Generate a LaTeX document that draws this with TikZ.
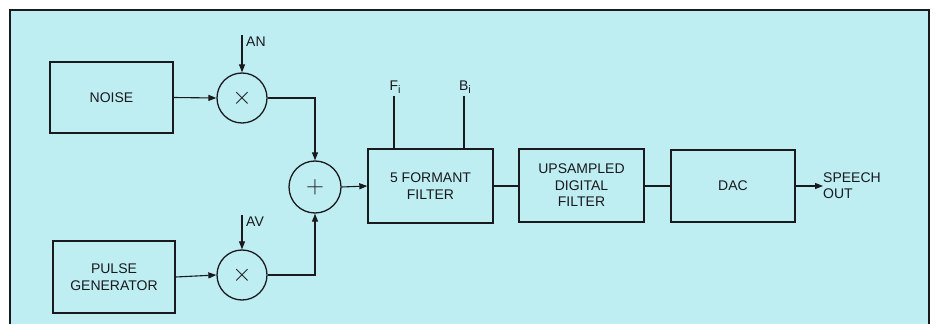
\documentclass[tikz,border=0pt]{standalone}
\usepackage{fontspec}
\setmainfont{Liberation Sans}
\usetikzlibrary{arrows.meta}
\definecolor{bgcyan}{RGB}{190,238,242}
\definecolor{ink}{RGB}{25,25,30}
\tikzset{
  blk/.style={draw=ink, line width=1.4pt, rectangle, inner sep=0pt, align=center, font=\fontsize{14}{16.5}\selectfont, text=ink},
  op/.style={draw=ink, line width=1.3pt, circle, minimum size=50pt, inner sep=0pt, font=\fontsize{26}{26}\selectfont, text=ink},
  wire/.style={draw=ink, line width=1.1pt},
  arr/.style={wire, -{Triangle[length=8pt,width=6pt]}},
  lbl/.style={font=\fontsize{14}{16}\selectfont, text=ink, inner sep=0pt, align=left}
}
\begin{document}
\begin{tikzpicture}[x=1pt,y=1pt]
\useasboundingbox (0,0) rectangle (936,324);
\fill[white] (0,0) rectangle (936,324);
\fill[bgcyan] (10,0) rectangle (929,314);
\draw[ink, line width=1.3pt] (10,0) -- (10,314) -- (929,314) -- (929,0);

\node[blk, minimum width=123pt, minimum height=71pt] (noise) at (111.5,226.5) {NOISE};
\node[blk, minimum width=122pt, minimum height=72pt] (pulse) at (114,47) {PULSE\\GENERATOR};
\node[op, minimum size=50pt] (m1) at (242,226) {$\times$};
\node[op, minimum size=50pt] (m2) at (242,49) {$\times$};
\node[op, minimum size=52pt] (plus) at (315,137) {$+$};
\node[blk, minimum width=125pt, minimum height=74pt] (form) at (430.5,138) {5 FORMANT\\FILTER};
\node[blk, minimum width=125pt, minimum height=73pt] (ups) at (581.5,138.5) {UPSAMPLED\\DIGITAL\\FILTER};
\node[blk, minimum width=124pt, minimum height=72pt] (dac) at (733,138) {DAC};
\node[lbl, anchor=west] (out) at (823,138) {SPEECH\\OUT};

\coordinate (an) at (242,289);
\coordinate (av) at (242,109);
\node[lbl, anchor=west] (anl) at (246,282) {AN};
\node[lbl, anchor=west] (avl) at (246,102) {AV};
\coordinate (fi) at (394,228);
\coordinate (bi) at (464,228);
\node[lbl, anchor=south] (fil) at (395,230) {F\raisebox{-3pt}{\fontsize{11}{11}\selectfont i}};
\node[lbl, anchor=south] (bil) at (465,230) {B\raisebox{-3pt}{\fontsize{11}{11}\selectfont i}};

\draw[arr] (an) -- (m1.north);
\draw[arr] (av) -- (m2.north);
\draw[arr] (noise.east) -- (m1.west);
\draw[arr] (pulse.east) -- (m2.west);
\draw[arr] (m1.east) -| (plus.north);
\draw[arr] (m2.east) -| (plus.south);
\draw[arr] (plus.east) -- (form.west);
\draw[wire] (fi) -- (fi |- form.north);
\draw[wire] (bi) -- (bi |- form.north);
\draw[wire] (form.east) -- (form.east -| ups.west);
\draw[wire] (ups.east |- dac.west) -- (dac.west);
\draw[arr] (dac.east) -- (out.west);
\end{tikzpicture}
\end{document}
